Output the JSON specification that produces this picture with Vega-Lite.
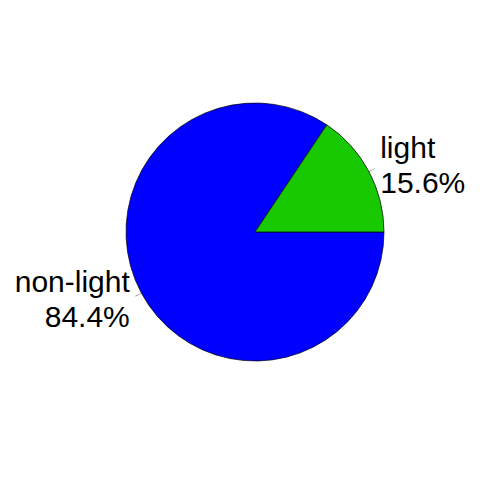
{
  "$schema": "https://vega.github.io/schema/vega-lite/v6.json",
  "width": 450,
  "height": 464,
  "padding": {"left": 30, "top": 0, "right": 0, "bottom": 16},
  "autosize": {"type": "none"},
  "background": "white",
  "config": {"view": {"stroke": null}},
  "data": {"values": [
    {"category": "non-light", "pct": 84.4, "rank": 1, "label": "non-light\n84.4%"},
    {"category": "light", "pct": 15.6, "rank": 2, "label": "light\n15.6%"}
  ]},
  "encoding": {
    "theta": {"field": "pct", "type": "quantitative", "stack": true, "scale": {"domain": [0, 100], "range": [1.5707963, 7.8539816]}},
    "order": {"field": "rank", "type": "quantitative"}
  },
  "layer": [
    {
      "mark": {"type": "arc", "outerRadius": 129, "stroke": "black", "strokeWidth": 0.7},
      "encoding": {
        "color": {"field": "category", "type": "nominal", "scale": {"domain": ["non-light", "light"], "range": ["#0000FF", "#18C800"]}, "legend": null}
      }
    },
    {
      "mark": {"type": "text", "radius": 132.2, "text": "—", "angle": 332, "fontSize": 7, "color": "#555555", "baseline": "middle", "align": "center"}
    },
    {
      "mark": {"type": "text", "radius": 141.9, "baseline": "middle", "dy": -16, "align": {"expr": "datum.category == 'light' ? 'left' : 'right'"}, "font": "Liberation Sans", "fontSize": 30, "lineBreak": "\n", "lineHeight": 35, "color": "black"},
      "encoding": {"text": {"field": "label", "type": "nominal"}}
    }
  ]
}
